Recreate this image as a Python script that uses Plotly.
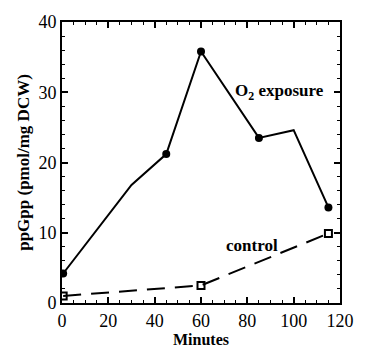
import plotly.graph_objects as go

o2_minutes = [0.5, 30, 45, 60, 85, 100, 115]
o2_ppgpp = [4.2, 16.8, 21.2, 35.8, 23.5, 24.6, 13.6]
o2_marked = [True, False, True, True, True, False, True]

ctrl_minutes = [0.5, 60, 115]
ctrl_ppgpp = [1.0, 2.5, 9.9]

font_family = "Liberation Serif, Times New Roman, serif"

fig = go.Figure()
fig.add_trace(go.Scatter(
    x=o2_minutes, y=o2_ppgpp, mode="lines",
    line=dict(color="black", width=2), showlegend=False))
fig.add_trace(go.Scatter(
    x=[m for m, k in zip(o2_minutes, o2_marked) if k],
    y=[v for v, k in zip(o2_ppgpp, o2_marked) if k],
    mode="markers", marker=dict(symbol="circle", size=8, color="black"),
    showlegend=False))
fig.add_trace(go.Scatter(
    x=ctrl_minutes, y=ctrl_ppgpp, mode="lines+markers",
    line=dict(color="black", width=2, dash="18px,10px"),
    marker=dict(symbol="square-open", size=7, color="black", line=dict(width=2)),
    showlegend=False))

fig.add_annotation(x=94, y=30, text="<b>O<sub>2</sub> exposure</b>", showarrow=False,
                   font=dict(family=font_family, size=17, color="black"))
fig.add_annotation(x=82, y=8.2, text="<b>control</b>", showarrow=False,
                   font=dict(family=font_family, size=17, color="black"))

axis_common = dict(showline=True, linecolor="black", linewidth=2, mirror="allticks",
                   ticks="inside", tickcolor="black", tickwidth=1.5, ticklen=6,
                   showgrid=False, zeroline=False,
                   tickfont=dict(family=font_family, size=18, color="black"))

fig.update_xaxes(range=[0, 120], dtick=20, tick0=0,
                 minor=dict(dtick=5, ticks="inside", ticklen=3, tickcolor="black", tickwidth=1.2),
                 title=dict(text="<b>Minutes</b>", standoff=2,
                            font=dict(family=font_family, size=16, color="black")),
                 **axis_common)
fig.update_yaxes(range=[0, 40], dtick=10, tick0=0,
                 minor=dict(dtick=2, ticks="inside", ticklen=3, tickcolor="black", tickwidth=1.2),
                 title=dict(text="<b>ppGpp (pmol/mg DCW)</b>", standoff=4,
                            font=dict(family=font_family, size=17, color="black")),
                 **axis_common)

fig.update_layout(width=366, height=356, margin=dict(l=62, r=20, t=15, b=43),
                  plot_bgcolor="white", paper_bgcolor="white")

fig.write_html("out.html")
